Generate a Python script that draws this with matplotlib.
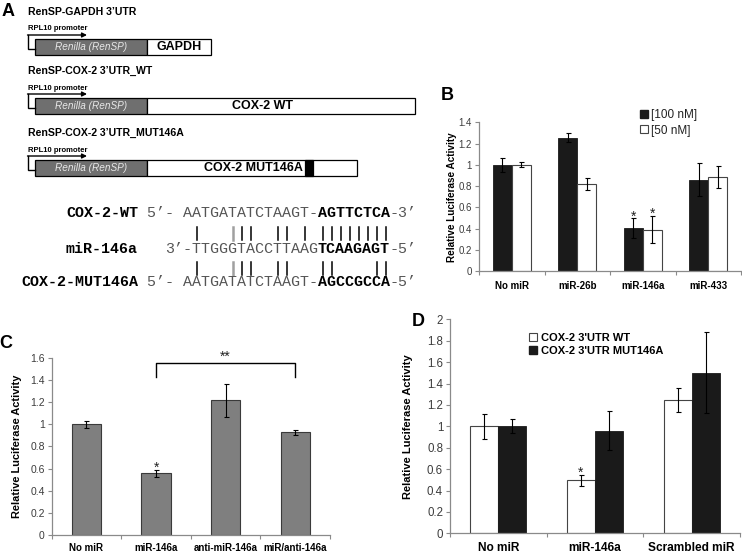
import numpy as np
import matplotlib
matplotlib.use("Agg")
import matplotlib.pyplot as plt
from matplotlib.lines import Line2D
from matplotlib.patches import Rectangle
from matplotlib.ticker import FuncFormatter

plt.rcParams['font.family'] = ['Liberation Sans', 'DejaVu Sans']

# ---------------- data ----------------
# panel A, reporter constructs
construct_titles = ['RenSP-GAPDH 3’UTR', 'RenSP-COX-2 3’UTR_WT', 'RenSP-COX-2 3’UTR_MUT146A']
utr_names = ['GAPDH', 'COX-2 WT', 'COX-2 MUT146A']

# panel A, sequence alignment
seq_names = ['COX-2-WT', 'miR-146a', 'COX-2-MUT146A']
seq_plain = ['5’- AATGATATCTAAGT-', '3’-TTGGGTACCTTAAG', '5’- AATGATATCTAAGT-']
seq_seed = ['AGTTCTCA', 'TCAAGAGT', 'AGCCGCCA']
seq_end = ['-3’', '-5’', '-5’']
pairs_top = [1, 6, 7, 10, 11, 13, 15, 16, 17, 18, 19, 20, 21, 22]
pairs_bottom = [1, 6, 7, 10, 11, 15, 16, 21, 22]
wobble = [5]

# panel B
b_groups = ['No miR', 'miR-26b', 'miR-146a', 'miR-433']
b_100 = [1.00, 1.255, 0.405, 0.86]
b_100_err = [0.065, 0.045, 0.09, 0.155]
b_50 = [1.00, 0.82, 0.39, 0.885]
b_50_err = [0.025, 0.06, 0.13, 0.10]
b_100_sig = [False, False, True, False]
b_50_sig = [False, False, True, False]

# panel C
c_groups = ['No miR', 'miR-146a', 'anti-miR-146a', 'miR/anti-146a']
c_vals = [1.00, 0.555, 1.215, 0.925]
c_err = [0.033, 0.035, 0.148, 0.022]
c_sig = [False, True, False, False]

# panel D
d_groups = ['No miR', 'miR-146a', 'Scrambled miR']
d_wt = [1.00, 0.495, 1.245]
d_wt_err = [0.115, 0.05, 0.11]
d_mut = [1.00, 0.96, 1.50]
d_mut_err = [0.065, 0.185, 0.38]
d_wt_sig = [False, True, False]

GRID = '#8a8a8a'
TICK = '#3c3c3c'

fig = plt.figure(figsize=(7.42, 5.53), dpi=100)

# overlay in pixel units for the schematic part
ax0 = fig.add_axes([0, 0, 1, 1])
ax0.set_xlim(0, 742)
ax0.set_ylim(553, 0)
ax0.axis('off')

W, H = 742.0, 553.0


def fx(px):
    return px / W


def fy(py):
    return 1 - py / H


# ---------------- panel A ----------------
ax0.text(8, 12, 'A', fontsize=13, fontweight='bold', ha='center', va='center')

head_y = [12, 71, 133]
utr_end = [211, 415, 357]
utr_text_x = [179, 263, 253]
for i, title in enumerate(construct_titles):
    y = head_y[i]
    ax0.text(28, y, title, fontsize=7.6, fontweight='bold', va='center')
    ax0.text(28, y + 17, 'RPL10 promoter', fontsize=5.5, fontweight='bold', va='center')
    top = y + 27
    h = 15.5
    # promoter arrow
    ax0.plot([35, 28, 28], [top + 10, top + 10, y + 23], color='k', lw=1.0,
             solid_joinstyle='miter')
    ax0.annotate('', xy=(87, y + 23), xytext=(27.5, y + 23),
                 arrowprops=dict(arrowstyle='-|>', color='k', lw=1.0,
                                 mutation_scale=7, shrinkA=0, shrinkB=0))
    ax0.add_patch(Rectangle((35, top), 112, h, facecolor='#6f6f6f', edgecolor='k', lw=0.9))
    ax0.add_patch(Rectangle((147, top), utr_end[i] - 147, h, facecolor='white',
                            edgecolor='k', lw=0.9))
    ax0.text(91, top + h / 2, 'Renilla (RenSP)', fontsize=7.2, style='italic',
             color='#e8e8e8', ha='center', va='center')
    ax0.text(utr_text_x[i], top + h / 2 + 0.5, utr_names[i], fontsize=9,
             fontweight='bold', ha='center', va='center')
    if i == 2:
        ax0.add_patch(Rectangle((305, top), 8, h, facecolor='k', edgecolor='k', lw=0.9))

# alignment
cw = 9.0          # px per character
x_seq = 183.0     # px of column 0
row_y = [213, 249, 282]
mono = 'Liberation Mono'
for i in range(3):
    y = row_y[i]
    ax0.text(x_seq - 5 * cw, y, seq_names[i], family=mono, fontsize=10.8,
             fontweight='bold', ha='right', va='center')
    start = 15 - len(seq_plain[i])
    ax0.text(x_seq + start * cw, y, seq_plain[i], family=mono, fontsize=10.8,
             color='#555555', ha='left', va='center')
    ax0.text(x_seq + 15 * cw, y, seq_seed[i], family=mono, fontsize=10.8,
             fontweight='bold', ha='left', va='center')
    ax0.text(x_seq + 23 * cw, y, seq_end[i], family=mono, fontsize=10.8,
             color='#555555', ha='left', va='center')

for cols, (y1, y2) in [(pairs_top, (227, 240)), (pairs_bottom, (262, 275))]:
    for k in cols:
        x = x_seq + cw * (k + 0.5)
        ax0.plot([x, x], [y1, y2], color='k', lw=1.1)
    for k in wobble:
        x = x_seq + cw * (k + 0.5)
        ax0.plot([x, x], [y1, y2], color='#a0a0a0', lw=1.8)


# ---------------- bar panel helper ----------------
def style_axes(ax, groups, ymax, tick_fs, cat_fs, ylab_fs, ylab_x, cat_pad):
    n = len(groups)
    ax.set_xlim(0, n)
    ax.set_ylim(0, ymax)
    ax.set_yticks(np.arange(0, ymax + 1e-9, 0.2))
    ax.yaxis.set_major_formatter(FuncFormatter(lambda v, p: f"{v:g}"))
    ax.set_xticks(np.arange(n) + 0.5)
    ax.set_xticklabels(groups, fontweight='bold', fontsize=cat_fs)
    ax.set_xticks(np.arange(n + 1), minor=True)
    ax.tick_params(axis='x', which='major', length=0, pad=cat_pad)
    ax.tick_params(axis='x', which='minor', length=3, color=GRID, width=0.8)
    ax.tick_params(axis='y', length=3, color=GRID, width=0.8, labelsize=tick_fs,
                   labelcolor=TICK, pad=2)
    for s in ['top', 'right']:
        ax.spines[s].set_visible(False)
    for s in ['left', 'bottom']:
        ax.spines[s].set_color(GRID)
        ax.spines[s].set_linewidth(0.9)
    ax.set_ylabel('Relative Luciferase Activity', fontsize=ylab_fs, fontweight='bold')
    ax.yaxis.set_label_coords(ylab_x, 0.5)
    ax.patch.set_alpha(0)


def star(ax, x, top, fs=10):
    ax.annotate('*', (x, top), xytext=(0, -1.5), textcoords='offset points',
                ha='center', va='baseline', fontsize=fs, color='#222')


ekw = dict(ecolor='k', elinewidth=0.8, capsize=1.8, capthick=0.8)

# ---------------- panel B ----------------
axB = fig.add_axes([fx(479), fy(271), fx(741) - fx(479), fy(122.3) - fy(271)])
xb = np.arange(len(b_groups)) + 0.5
bw = 0.29
axB.bar(xb - bw / 2, b_100, bw, color='#1a1a1a', edgecolor='#1a1a1a', lw=0.6,
        yerr=b_100_err, error_kw=ekw, zorder=2)
axB.bar(xb + bw / 2, b_50, bw, color='white', edgecolor='#444444', lw=0.8,
        yerr=b_50_err, error_kw=ekw, zorder=2)
style_axes(axB, b_groups, 1.4, 7, 7, 7.2, -0.085, 7)
for i in range(len(b_groups)):
    if b_100_sig[i]:
        star(axB, xb[i] - bw / 2, b_100[i] + b_100_err[i])
    if b_50_sig[i]:
        star(axB, xb[i] + bw / 2, b_50[i] + b_50_err[i])
hb = [Line2D([], [], ls='none', marker='s', markersize=5.5, markerfacecolor='#1a1a1a',
             markeredgecolor='#1a1a1a'),
      Line2D([], [], ls='none', marker='s', markersize=5.5, markerfacecolor='white',
             markeredgecolor='#444444', markeredgewidth=0.8)]
fig.legend(hb, ['[100 nM]', '[50 nM]'], loc='upper left',
           bbox_to_anchor=(fx(641), fy(109)), frameon=False, fontsize=8.5,
           handlelength=0.5, handletextpad=0.35, labelspacing=0.3,
           borderpad=0, borderaxespad=0, labelcolor='#222')
ax0.text(447, 95, 'B', fontsize=13, fontweight='bold', ha='center', va='center')

# ---------------- panel C ----------------
axC = fig.add_axes([fx(51.7), fy(535), fx(330) - fx(51.7), fy(357.7) - fy(535)])
xc = np.arange(len(c_groups)) + 0.5
axC.bar(xc, c_vals, 0.42, color='#7f7f7f', edgecolor='#3a3a3a', lw=0.8,
        yerr=c_err, error_kw=ekw, zorder=2)
style_axes(axC, c_groups, 1.6, 7.5, 7, 7.9, -0.108, 6)
for i in range(len(c_groups)):
    if c_sig[i]:
        star(axC, xc[i], c_vals[i] + c_err[i])
axC.plot([xc[1], xc[1], xc[3], xc[3]], [1.43, 1.55, 1.55, 1.43], color='k', lw=1.0,
         clip_on=False, solid_joinstyle='round')
axC.annotate('**', ((xc[1] + xc[3]) / 2, 1.55), xytext=(0, 2), textcoords='offset points',
             ha='center', va='baseline', fontsize=10, color='#222', annotation_clip=False)
ax0.text(6, 343, 'C', fontsize=13, fontweight='bold', ha='center', va='center')

# ---------------- panel D ----------------
axD = fig.add_axes([fx(450), fy(533.3), fx(740) - fx(450), fy(319.3) - fy(533.3)])
xd = np.arange(len(d_groups)) + 0.5
axD.bar(xd - bw / 2, d_wt, bw, color='white', edgecolor='#444444', lw=0.8,
        yerr=d_wt_err, error_kw=ekw, zorder=2)
axD.bar(xd + bw / 2, d_mut, bw, color='#1a1a1a', edgecolor='#1a1a1a', lw=0.6,
        yerr=d_mut_err, error_kw=ekw, zorder=2)
style_axes(axD, d_groups, 2.0, 8.3, 8.6, 8, -0.128, 6)
for i in range(len(d_groups)):
    if d_wt_sig[i]:
        star(axD, xd[i] - bw / 2, d_wt[i] + d_wt_err[i])
hd = [Line2D([], [], ls='none', marker='s', markersize=5.5, markerfacecolor='white',
             markeredgecolor='#444444', markeredgewidth=0.8),
      Line2D([], [], ls='none', marker='s', markersize=5.5, markerfacecolor='#1a1a1a',
             markeredgecolor='#1a1a1a')]
fig.legend(hd, ['COX-2 3\'UTR WT', 'COX-2 3\'UTR MUT146A'], loc='upper left',
           bbox_to_anchor=(fx(530), fy(333)), frameon=False,
           prop=dict(size=8, weight='bold'),
           handlelength=0.6, handletextpad=0.4, labelspacing=0.3,
           borderpad=0, borderaxespad=0)
ax0.text(418, 322, 'D', fontsize=13, fontweight='bold', ha='center', va='center')

fig.savefig('out.png', dpi=100)
